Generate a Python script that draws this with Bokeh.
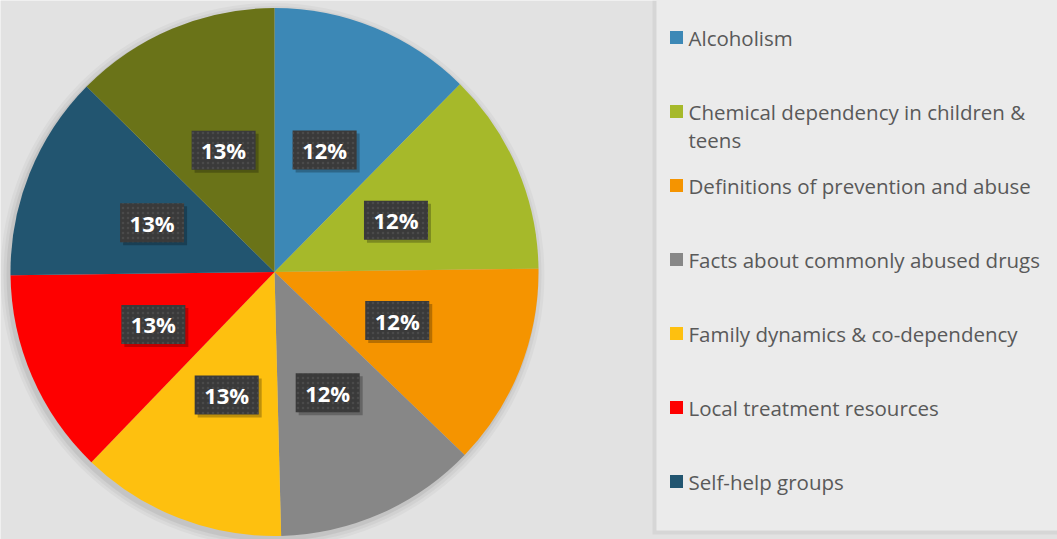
import math
from bokeh.plotting import figure
from bokeh.models import Range1d, ColumnDataSource
from bokeh.core.properties import value
from bokeh.embed import file_html
from bokeh.resources import INLINE

# ---- data ----
categories = [
    "Alcoholism",
    "Chemical dependency in children & teens",
    "Definitions of prevention and abuse",
    "Facts about commonly abused drugs",
    "Family dynamics & co-dependency",
    "Local treatment resources",
    "Self-help groups",
    "Other",
]
legend_lines = [
    ["Alcoholism"],
    ["Chemical dependency in children &", "teens"],
    ["Definitions of prevention and abuse"],
    ["Facts about commonly abused drugs"],
    ["Family dynamics & co-dependency"],
    ["Local treatment resources"],
    ["Self-help groups"],
    ["Other"],
]
shares = [12.4, 12.4, 12.4, 12.4, 12.6, 12.6, 12.6, 12.6]
colors = ["#3c88b6", "#a6b92a", "#f59400", "#878787",
          "#fec00f", "#fe0000", "#225570", "#6a7318"]

# ---- layout (data units == screen pixels; y up = 539 - screen y) ----
W, H = 1057, 539
p = figure(width=W, height=H, output_backend="svg", toolbar_location=None,
           x_range=Range1d(0, W), y_range=Range1d(0, H),
           min_border=0, outline_line_color=None)
p.axis.visible = False
p.grid.visible = False
p.background_fill_color = "#e2e2e2"
p.border_fill_color = "#e2e2e2"

# legend panel
p.quad(left=[652], right=[1060], bottom=[5], top=[545], fill_color="#000000",
       fill_alpha=0.05, line_color=None)
p.quad(left=[656], right=[1060], bottom=[9], top=[545], fill_color="#ebebeb",
       line_color=None)

cx, cy, R = 274, 539 - 271.5, 264

# pie shadow
for extra, alpha in [(8, 0.03), (5, 0.04), (2, 0.06)]:
    p.circle(x=[cx - 2], y=[cy - 3], radius=R + extra, fill_color="#000000",
             fill_alpha=alpha, line_color=None)

total = sum(shares)
starts, ends, mids = [], [], []
cum = 0.0
for v in shares:
    a0 = math.pi / 2 - 2 * math.pi * cum / total
    cum += v
    a1 = math.pi / 2 - 2 * math.pi * cum / total
    starts.append(a0)
    ends.append(a1)
    mids.append((a0 + a1) / 2)

src = ColumnDataSource(dict(start=starts, end=ends, color=colors, cat=categories))
p.wedge(x=cx, y=cy, radius=R, start_angle="start", end_angle="end",
        direction="clock", fill_color="color", line_color=None, source=src)

# data labels
lr = 0.5 * R
lx = [cx + lr * math.cos(m) for m in mids]
ly = [cy + lr * math.sin(m) for m in mids]
labels = [f"{round(v * 100 / total)}%" for v in shares]
p.rect(x=[x + 3 for x in lx], y=[y - 3 for y in ly], width=64, height=39,
       fill_color="#000000", fill_alpha=0.25, line_color=None)
p.rect(x=lx, y=ly, width=64, height=39, fill_color="#3a3a3a", line_color=None,
       hatch_pattern="dot", hatch_color="#555555", hatch_scale=5, hatch_alpha=0.6)
p.text(x=lx, y=ly, text=labels, text_align="center", text_baseline="middle",
       text_color="white", text_font=value("Open Sans"), text_font_style="bold",
       text_font_size="22px")

# legend (entries that fall below the panel are clipped, as in the reference)
sq_x, sq_y, sq_c, tx, ty, tt = [], [], [], [], [], []
for i, lines in enumerate(legend_lines):
    y0 = 539 - (37 + 74 * i)
    if y0 < 20:
        break
    sq_x.append(676)
    sq_y.append(y0)
    sq_c.append(colors[i])
    for j, line in enumerate(lines):
        tx.append(688)
        ty.append(y0 - 28 * j)
        tt.append(line)
p.rect(x=sq_x, y=sq_y, width=13, height=13, fill_color=sq_c, line_color=None)
p.text(x=tx, y=ty, text=tt, text_align="left", text_baseline="middle",
       text_color="#595959", text_font=value("Open Sans"), text_font_size="20.5px")

open("out.html", "w").write(file_html(p, INLINE))
